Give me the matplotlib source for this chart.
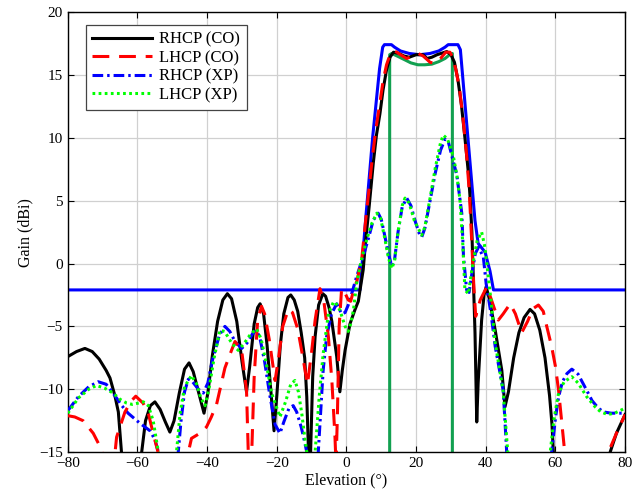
"""Gain vs elevation: co- and cross-polar patterns with the mask and spec.
Output: out.png
"""

import numpy as np
import matplotlib.pyplot as plt

plt.rcParams['font.family'] = ['Liberation Serif', 'DejaVu Serif']

# RHCP (CO) - black solid
RHCP_CO_ANG = [-80, -77.5, -75.1, -73, -71, -69, -67.9, -66.5, -65.5, -64.6, -64, -61.5,
               -59.3, -58.8, -57.7, -56.3, -55, -53.5, -52, -50.7, -49.5, -48, -46.5,
               -45.2, -44, -42.5, -40.9, -39.8, -38.5, -37, -35.5, -34.2, -33, -31.5,
               -30, -28.7, -27.8, -26.5, -25.5, -24.8, -23.8, -22.8, -21.6, -20.8, -20,
               -19, -18, -16.8, -16, -15, -14, -13, -12, -11.4, -10.9, -10.6, -10.3,
               -9.7, -9.0, -8.0, -6.8, -6.0, -5.0, -4.2, -2.8, -1.9, -1.2, -0.4, 1.0,
               2.4, 3.4, 3.9, 4.8, 5.5, 6.5, 7.7, 8.6, 9.6, 10.5, 11.5, 12.5, 13.5,
               15.0, 16.5, 18, 20, 22, 23.1, 24.5, 26, 28.8, 30, 31, 32, 33, 34, 35,
               35.5, 36.0, 36.4, 36.9, 37.4, 37.8, 38.8, 39.5, 40.1, 41, 42.7, 44.6,
               45.5, 46.5, 48, 49.5, 51, 52.7, 54, 55.5, 57, 58.3, 59, 59.4, 60, 67,
               75.0, 75.7, 77.5, 80]
RHCP_CO_DB = [-7.4, -7.0, -6.75, -7.0, -7.6, -8.5, -9.1, -10.5, -11.8, -15.0, -18, -25,
              -18, -15, -12.5, -11.3, -11.0, -11.6, -12.6, -13.4, -12.5, -10.3, -8.4,
              -7.9, -8.6, -10.2, -11.9, -10.3, -7.3, -4.6, -2.9, -2.4, -2.8, -4.6,
              -7.8, -10.2, -8.2, -4.8, -3.5, -3.2, -4.0, -6.5, -10.5, -13.3, -10.5,
              -6.5, -4.0, -2.7, -2.5, -2.9, -3.8, -5.5, -7.5, -10.6, -15, -17, -15,
              -9, -5.8, -3.3, -2.4, -2.6, -3.5, -4.6, -7.4, -10.2, -8.5, -6.9, -4.8,
              -3.7, -3.0, -2.1, -0.5, 1.8, 4.5, 8.0, 10.2, 11.9, 13.8, 15.4, 16.4, 16.8,
              16.7, 16.5, 16.4, 16.6, 16.6, 16.3, 16.4, 16.6, 16.85, 16.6, 16.0, 14.6,
              12.6, 10.0, 7.2, 5.2, 2.5, -1.0, -5.5, -12.6, -9.5, -4.5, -2.5, -1.85,
              -2.8, -5.3, -8.5, -11.4, -10.2, -7.5, -5.5, -4.3, -3.65, -4.0, -5.3,
              -7.5, -10.5, -12.8, -15, -19, -28, -17, -15, -13.5, -12.0]

# LHCP (CO) - red dashed
LHCP_CO_ANG = [-80, -78, -75.6, -72.7, -70.3, -69.5, -68, -66.8, -66, -63.6, -61.7, -60.5,
               -58.4, -56.9, -55.5, -54.1, -53.5, -50, -46.5, -45.4, -44.5, -42.1,
               -40.2, -38.8, -37.3, -34.9, -33, -32, -30.1, -28.7, -28.2, -27.8, -27.2,
               -26.5, -25.5, -24.4, -23.5, -22.2, -20.5, -19.5, -18.3, -16.7, -15.5,
               -14, -12.5, -11.2, -10, -9.0, -7.6, -6.5, -5.2, -4.2, -3.3, -3.0, -2.6,
               -2.1, -1.4, -0.5, 0.5, 1.2, 2.4, 3.0, 4.4, 5.5, 6.5, 7.5, 8.5, 9.5, 10.5,
               11.5, 12.5, 13.5, 14.5, 15.5, 17.3, 19, 20.6, 22, 24, 25.4, 27, 28.5,
               29.7, 30.5, 31.5, 32.5, 33.5, 34.5, 35.3, 36, 36.6, 37.1, 38.4, 40.3,
               41.5, 43.6, 45, 47, 48.5, 50.3, 52, 53.5, 55.1, 56.5, 57.5, 58.9, 60,
               60.9, 62.3, 63, 68, 74.5, 75.2, 77.5, 80]
LHCP_CO_DB = [-12.1, -12.2, -12.5, -13.5, -14.8, -16, -18, -16, -13.8, -11.8, -10.9,
              -10.55, -11.1, -11.9, -13.5, -15, -17, -20, -17, -15, -13.9, -13.5,
              -13.0, -12.2, -11.2, -8.3, -6.9, -6.2, -6.9, -10.1, -15, -19, -15,
              -9, -4.5, -3.4, -4.0, -6.0, -9.3, -7.5, -5.0, -3.65, -3.9,
              -5.2, -7.5, -9.6, -7.0, -4.5, -2.0, -3.0, -5.8, -9.3, -13.8, -16, -12,
              -5, -2.0, -2.3, -2.9, -3.0, -1.8, -1.4, 0.4, 3.4, 6.0, 8.6, 10.8, 12.6,
              14.5, 15.8, 16.6, 16.9, 16.8, 16.6, 16.3, 16.5, 16.7, 16.5, 16.0, 15.9,
              16.3, 16.8, 16.8, 16.4, 15.3, 13.8, 11.4, 8.6, 5.5, 1.5, -2.0, -4.2,
              -2.9, -1.85, -2.8, -4.5, -4.0, -3.2, -4.0, -5.5, -4.6, -3.6, -3.3, -3.8,
              -5.0, -6.6, -8.2, -10.1, -14.0, -16, -25, -17, -15, -13.5, -12.0]

# RHCP (XP) - blue dash-dot
RHCP_XP_ANG = [-80, -77, -74, -71.3, -69, -66.5, -64.5, -62.7, -59.3, -56.4, -55, -54,
               -53, -51, -49, -48.3, -47.5, -46.5, -45.4, -44.2, -42.5, -41.1, -39.8,
               -38.5, -36.5, -34.9, -33.5, -32, -30.1, -28.5, -27, -25.8, -24.8, -23.5,
               -22, -20.5, -19.1, -18, -16.5, -15.3, -14.3, -13, -12, -11.4, -10, -8.6,
               -8.1, -6.7, -5.7, -4.3, -2.8, -1.4, -0.4, 0.5, 1.5, 2.9, 4.8, 6.3, 7.7,
               9.1, 10, 11, 12, 13, 13.8, 14.8, 16, 17.3, 18.5, 19.8, 21, 21.6, 22.5,
               24, 25.5, 27, 28.3, 29.3, 30.5, 31.7, 33.1, 33.6, 34.5, 35.2, 36, 37,
               37.9, 39.3, 40.1, 41.5, 42.7, 45, 46, 46.5, 52, 58, 58.9, 60, 60.9, 62,
               63.3, 64.7, 66.5, 69, 70.5, 72.3, 73.8, 76, 80]
RHCP_XP_DB = [-11.7, -10.6, -9.8, -9.4, -9.6, -10.5, -11.3, -11.9, -12.7, -13.3, -14.0,
              -15, -18, -20, -17, -15, -12.5, -10.2, -9.2, -9.4, -10.0, -10.3, -9.5,
              -7.7, -5.7, -5.0, -5.4, -6.2, -6.75, -6.3, -5.6, -5.3, -6.0, -7.8,
              -10.5, -12.8, -13.5, -12.6, -11.5, -11.3, -11.8, -13, -14.2, -15, -20,
              -17, -15, -8.5, -5.8, -4.0, -3.2, -4.0, -3.9, -3.3, -2.4, -1.05, 0.55,
              2.0, 3.45, 4.0, 3.5, 2.2, 0.8, -0.2, 0.3, 2.5, 4.5, 5.2, 4.6, 3.3, 2.3,
              2.1, 2.8, 5.0, 7.2, 9.0, 9.9, 9.6, 8.3, 7.0, 4.0, 0.55, -2.1, -2.3, -0.8,
              0.8, 1.3, 0.5, -1.6, -4.0, -6.6, -10.1, -15, -20, -25, -18, -15, -12.3,
              -10.6, -9.4, -8.75, -8.4, -8.8, -10.1, -10.9, -11.5, -11.8, -11.9, -11.9]

# LHCP (XP) - green dotted
LHCP_XP_ANG = [-80, -77, -74, -71.8, -69.5, -67, -65, -63.1, -61.5, -59.8, -58.3, -56.9,
               -55.5, -54.6, -54, -53, -50, -49.3, -48.8, -47.8, -46.5, -44.5, -43,
               -41.8, -40.6, -39.5, -38, -36.3, -35, -33, -31.1, -29.5, -27.5, -25.8,
               -24.5, -23, -21.5, -19.1, -17.5, -16, -14.8, -13.8, -12.8, -12, -11.4,
               -10.5, -9.3, -9.0, -7.8, -6.7, -5.2, -3.8, -3.3, -1.9, -0.4, 0.5, 1.2,
               2.0, 2.9, 4.3, 5.8, 7.3, 8.7, 9.8, 11, 12, 13, 13.8, 14.8, 16, 16.8, 18,
               19.5, 21.6, 22.5, 24, 25.5, 27, 27.8, 29, 30.7, 31.7, 32.6, 33.4, 34,
               35, 36, 37.5, 38.8, 39.6, 40.3, 41.5, 42.7, 45, 46.3, 47, 52, 57.8, 58.5,
               59.5, 60.9, 62.5, 64.7, 66.5, 69, 71.4, 73, 75, 77, 80]
LHCP_XP_DB = [-11.9, -10.7, -10.0, -9.7, -9.9, -10.3, -10.8, -11.1, -11.2, -11.1, -11.0,
              -11.3, -12.5, -14, -15, -19, -20, -17, -15, -12, -9.8, -8.9, -9.6,
              -10.7, -11.3, -10.0, -7.5, -5.3, -5.4, -6.3, -6.9, -6.4, -5.6, -5.2,
              -6.0, -8.0, -10.3, -12.2, -11.0, -9.6, -9.3, -10.2, -12.0, -13.8, -15,
              -19, -17, -15, -10.5, -7.2, -4.0, -3.1, -3.05, -3.7, -5.0, -5.4, -4.8,
              -3.7, -1.6, 0.3, 1.9, 3.2, 4.0, 3.6, 2.0, 0.5, -0.4, 0.2, 2.5, 4.6, 5.2,
              4.8, 3.4, 2.25, 2.9, 5.2, 7.6, 9.6, 10.2, 9.9, 8.5, 7.0, 5.0, 1.5, -2.1,
              -2.4, -0.5, 1.8, 2.5, 1.5, 0.0, -3.0, -6.3, -10.2, -15, -20, -25, -18,
              -15, -12.5, -10.3, -9.4, -9.0, -9.5, -10.6, -11.4, -11.8, -12.0, -11.9,
              -11.5]

# gain mask (blue solid)
MASK_ANG = [-80, 3.9, 5.5, 7.5, 9.5, 10.4, 10.9, 12.9, 13.8, 15.5, 18, 21, 24, 26.5,
            28.3, 29.2, 32.0, 32.7, 36.9, 37.8, 39.8, 41.2, 42.2, 80]
MASK_DB = [-2.1, -2.1, 3.5, 10.0, 15.5, 17.2, 17.4, 17.4, 17.2, 16.9, 16.7, 16.6, 16.7,
           16.9, 17.2, 17.4, 17.4, 17.0, 3.4, 1.6, 0.9, -0.6, -2.1, -2.1]

# coverage spec (green solid)
SPEC_ANG = [12.4, 12.4, 13.0, 14.5, 16.7, 18.5, 20.5, 22.5, 24.5, 26.5, 28.3, 29.6,
            30.4, 30.4]
SPEC_DB = [-20, 16.6, 16.7, 16.5, 16.2, 15.95, 15.8, 15.8, 15.85, 16.05, 16.3, 16.6,
           16.7, -20]


def main():
    fig = plt.figure(figsize=(6.34, 4.98), dpi=100)
    ax = fig.add_axes([0.107, 0.092, 0.879, 0.884])

    ax.plot(MASK_ANG, MASK_DB, '-', color='#0000ff', lw=2.2, zorder=2)
    ax.plot(SPEC_ANG, SPEC_DB, '-', color='#12a050', lw=2.2, zorder=2)

    ax.plot(RHCP_CO_ANG, RHCP_CO_DB, '-', color='black', lw=2.2,
            label='RHCP (CO)', zorder=3)
    ax.plot(LHCP_CO_ANG, LHCP_CO_DB, color='#ff0000', lw=2.2,
            dashes=(5.5, 3.2), label='LHCP (CO)', zorder=4)
    ax.plot(RHCP_XP_ANG, RHCP_XP_DB, color='#0000ff', lw=2.2,
            dashes=(3.5, 1.3, 0.8, 1.3), label='RHCP (XP)', zorder=3)
    ax.plot(LHCP_XP_ANG, LHCP_XP_DB, color='#00ff00', lw=2.2,
            dashes=(0.9, 1.1), label='LHCP (XP)', zorder=4)

    ax.set_xlim(-80, 80)
    ax.set_ylim(-15, 20)
    ax.set_xticks(np.arange(-80, 81, 20))
    ax.set_yticks(np.arange(-15, 21, 5))
    ax.set_xlabel('Elevation (°)', fontsize=11.5, labelpad=2)
    ax.set_ylabel('Gain (dBi)', fontsize=11.5, labelpad=4)
    ax.tick_params(direction='in', top=True, right=True, labelsize=11,
                   length=4, width=0.8)
    ax.grid(True, color='#d0d0d0', lw=0.9)
    ax.set_axisbelow(True)
    for s in ax.spines.values():
        s.set_linewidth(1.0)

    leg = ax.legend(loc='upper left', bbox_to_anchor=(0.032, 0.97),
                    borderaxespad=0, fontsize=12, handlelength=3.6,
                    handletextpad=0.4, labelspacing=0.15, fancybox=False,
                    framealpha=1, edgecolor='#444444', borderpad=0.4)
    leg.get_frame().set_linewidth(0.9)

    fig.savefig('out.png', dpi=100)
    plt.close(fig)


if __name__ == '__main__':
    main()
